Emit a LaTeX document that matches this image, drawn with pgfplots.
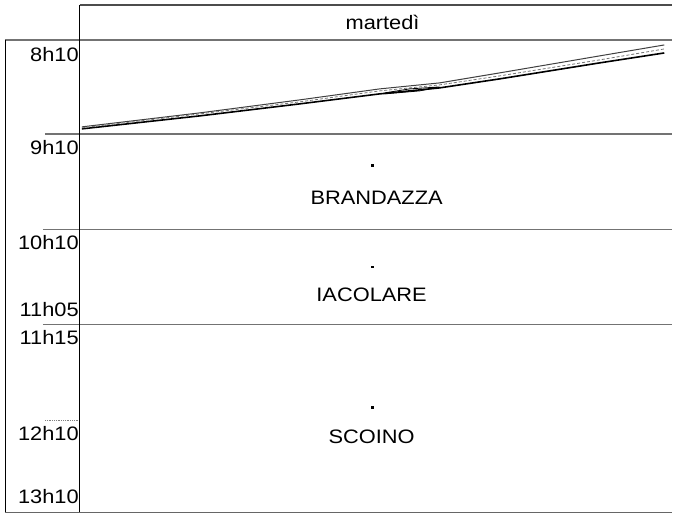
\documentclass[border=0pt]{standalone}
\usepackage{fontspec}
\setmainfont{Liberation Sans}[FakeStretch=1.12]
\usepackage{pgfplots}
\pgfplotsset{compat=1.18}
\begin{document}
\begin{tikzpicture}
\begin{axis}[
  scale only axis, width=593pt, height=473pt,
  xmin=80, xmax=673, ymin=40, ymax=513, y dir=reverse,
  clip=false,
  axis line style={draw=none},
  xtick=\empty,
  ytick={55,148,243,310,338,434,497},
  yticklabels={8h10,9h10,10h10,11h05,11h15,12h10,13h10},
  major tick length=0pt,
  /pgf/number format/assume math mode=true,
  yticklabel style={font=\fontsize{19.5}{21}\selectfont, inner sep=1pt, anchor=east},
]
\path (axis cs:0,0) rectangle (axis cs:673,517);
% frame and separators
\addplot[black!70, line width=1.2pt] coordinates {(80,5) (673,5)};
\addplot[black!55, line width=1.5pt] coordinates {(5,40) (673,40)};
\addplot[black!55, line width=1.5pt] coordinates {(45,134) (673,134)};
\addplot[black!55, line width=1.5pt] coordinates {(43,230) (673,230)};
\addplot[black!55, line width=1.5pt] coordinates {(43,325) (673,325)};
\addplot[black!60, line width=1.5pt] coordinates {(5,513) (673,513)};
\addplot[black, line width=0.9pt] coordinates {(80,5) (80,513)};
\addplot[black, line width=0.9pt] coordinates {(5,40) (5,513)};
\addplot[black!50, line width=0.8pt, densely dotted] coordinates {(45,421) (78,421)};
% diagonal lines
\addplot[black, line width=1.6pt] coordinates {(82,129) (200,116) (300,104) (380,94) (440,88) (500,79) (600,63) (665,53)};
\addplot[black!75, line width=1pt] coordinates {(82,127) (200,113) (300,100) (380,89) (440,83) (500,73) (600,56) (665,45)};
\addplot[black!55, line width=0.8pt, densely dashed] coordinates {(82,128) (200,114) (300,102) (380,91) (440,85) (500,76) (600,60) (665,49)};
\addplot[black, line width=0.8pt] coordinates {(385,93) (410,89) (440,87) (420,91) (385,94)};
% dots
\addplot[only marks, mark=square*, mark size=0.9pt, black] coordinates {(373,165) (373,267) (373,408)};
% texts
\node[font=\fontsize{19.5}{21}\selectfont] at (axis cs:383,22) {martedì};
\node[font=\fontsize{19.5}{21}\selectfont] at (axis cs:377,198) {BRANDAZZA};
\node[font=\fontsize{19.5}{21}\selectfont] at (axis cs:372,295) {IACOLARE};
\node[font=\fontsize{19.5}{21}\selectfont] at (axis cs:372,437) {SCOINO};
\end{axis}
\end{tikzpicture}
\end{document}
